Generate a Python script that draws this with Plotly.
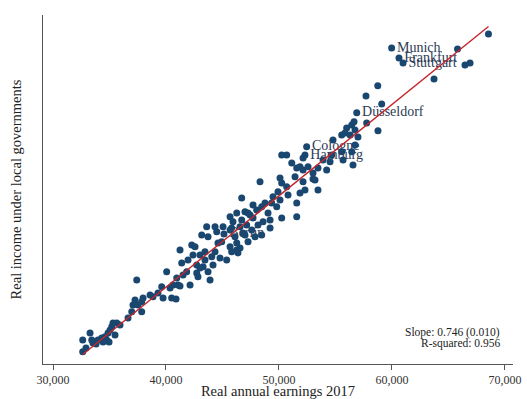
import plotly.graph_objects as go

# Unlabelled local governments: real annual earnings 2017 and real income under local governments
earnings = [
    32630, 32630, 33280, 33430, 33540, 33980, 34310, 34600, 34750, 34870, 35050, 35200, 35490, 35310,
    35640, 35930, 36640, 36970, 37080, 37260, 37410, 37520, 37850, 37850, 37970, 38590, 38850, 39290,
    39620, 39740, 40360, 40500, 40890, 40060, 40620, 40950, 41060, 41240, 33810, 34430, 32920, 34960,
    41240, 41390, 41510, 41830, 41950, 42130, 42280, 42390, 42720, 42830, 43010, 43160, 43280, 43450,
    43720, 43720, 43900, 44160, 44340, 44340, 44490, 44600, 44780, 42720, 43600,
    46700, 47700, 48030, 46260, 46990, 47440, 45670, 45930, 46700, 47700, 46550, 47140, 48140, 45050,
    45670, 47590, 46110, 46990, 47880, 44930, 46260, 47260, 45670, 46550, 45370, 45810, 46370,
    43450, 44050, 46260, 46820, 45810, 47260, 42570, 43010,
    48320, 50240, 50680, 52130, 53190, 49910, 50800, 52300, 53450, 49470, 50090, 51860, 48760, 49350,
    48470, 49800, 51570, 49030, 50240, 51570, 48590, 49210, 49210, 48470, 50090,
    50240, 50680, 51130, 51570, 51860, 52130, 52570, 53010, 53450, 53900, 54220, 51420, 53010, 52130,
    54780, 54520, 54670,
    55550, 55840, 55990, 56290, 56440, 56640, 56730, 56990, 56730, 56440, 55550, 55670, 56550, 57700,
    57760, 58760, 58740, 59090,
    63720, 65800, 66460, 66910, 68540,
]
income = [
    25520, 24570, 26090, 25520, 25280, 25520, 25690, 25790, 25520, 26090, 26340, 26610, 25930, 26910,
    26910, 26750, 27320, 27830, 28380, 28790, 30420, 28380, 28650, 27830, 28950, 29200, 29060, 29360,
    29880, 28950, 29770, 28950, 28870, 31100, 30010, 30590, 30010, 29930, 25200, 25360, 24870, 25360,
    32870, 31810, 30830, 31100, 32060, 30010, 33280, 32460, 31650, 30690, 32460, 34100, 31510, 32060,
    33960, 31100, 30420, 31650, 32730, 34780, 34370, 33440, 32220, 30990, 34780,
    37120, 36550, 36140, 35890, 36000, 35730, 35590, 35180, 35320, 35490, 34780, 34910, 34910, 34780,
    34510, 34510, 33960, 34100, 33960, 33550, 33440, 33550, 33140, 33040, 32060, 32730, 32630,
    32730, 32330, 32870, 34260, 34670, 35890, 33140, 31400,
    38450, 38340, 38040, 38450, 38590, 37630, 37360, 37770, 37770, 37230, 36960, 37530, 36710, 36710,
    36410, 36410, 36710, 35890, 35490, 35590, 35180, 35320, 34670, 34100, 38750,
    40630, 40630, 39980, 39570, 39680, 39410, 39680, 39160, 39570, 40220, 39410, 38860, 38670, 40390,
    41860, 40080, 40630,
    42260, 42430, 42840, 42260, 43080, 43350, 42670, 42100, 41450, 40900, 40900, 40220, 39810, 45450,
    43250, 42620, 46290, 44800,
    46840, 49290, 47980, 48140, 50510,
]

# Labelled cities
city_names = ["Berlin", "Hamburg", "Cologne", "Düsseldorf", "Stuttgart", "Frankfurt", "Munich"]
city_earnings = [45130, 52300, 52450, 56880, 60980, 60620, 59970]
city_income = [34180, 40630, 41310, 44090, 48140, 48550, 49370]

# Linear fit reported in the chart
slope = 0.746
intercept = 0.0
x_ticks = [30000, 40000, 50000, 60000, 70000]
x_tick_labels = ["30,000", "40,000", "50,000", "60,000", "70,000"]

marker_color = "#1a476f"
serif = "Liberation Serif, Times New Roman, serif"
msize = 7

fig = go.Figure()
fig.add_trace(go.Scatter(
    x=city_earnings, y=city_income, mode="markers+text", text=city_names,
    textposition="middle right",
    textfont=dict(family=serif, size=14, color="#2c3a56"),
    marker=dict(color=marker_color, size=msize, line=dict(width=0)),
    hoverinfo="skip", showlegend=False,
))
fig.add_trace(go.Scatter(
    x=earnings, y=income, mode="markers",
    marker=dict(color=marker_color, size=msize, line=dict(width=0)),
    hoverinfo="skip", showlegend=False,
))
all_x = earnings + city_earnings
x0, x1 = min(all_x), max(all_x)
fig.add_trace(go.Scatter(
    x=[x0, x1], y=[intercept + slope * x0, intercept + slope * x1], mode="lines",
    line=dict(color="#c4262e", width=1.4), hoverinfo="skip", showlegend=False,
))

fig.update_layout(
    width=527, height=399,
    margin=dict(l=43, r=14, t=15, b=35),
    paper_bgcolor="white", plot_bgcolor="white",
    font=dict(family=serif, color="#222"),
    xaxis=dict(
        range=[29115, 70710], tickvals=x_ticks, ticktext=x_tick_labels, automargin=False,
        ticks="outside", ticklen=5, tickcolor="#555", tickwidth=1,
        showline=True, linecolor="#555", linewidth=1, showgrid=False, zeroline=False,
        tickfont=dict(family=serif, size=12, color="#333"),
        title=dict(text="Real annual earnings 2017", font=dict(family=serif, size=14.5, color="#222"), standoff=4),
    ),
    yaxis=dict(
        range=[23562, 52065], showticklabels=False, ticks="", automargin=False,
        showline=True, linecolor="#555", linewidth=1, showgrid=False, zeroline=False,
        title=dict(text="Real income under local governments", font=dict(family=serif, size=14.5, color="#222"), standoff=16),
    ),
    annotations=[
        dict(text="Slope: 0.746 (0.010)", xref="paper", yref="paper", x=0.977, y=0.0908,
             xanchor="right", yanchor="middle", showarrow=False,
             font=dict(family=serif, size=11.5, color="#222")),
        dict(text="R-squared: 0.956", xref="paper", yref="paper", x=0.977, y=0.0593,
             xanchor="right", yanchor="middle", showarrow=False,
             font=dict(family=serif, size=11.5, color="#222")),
    ],
)
fig.write_html("out.html", config={"displayModeBar": False},
               post_script="document.body.style.margin='0';document.body.style.overflow='hidden';")
